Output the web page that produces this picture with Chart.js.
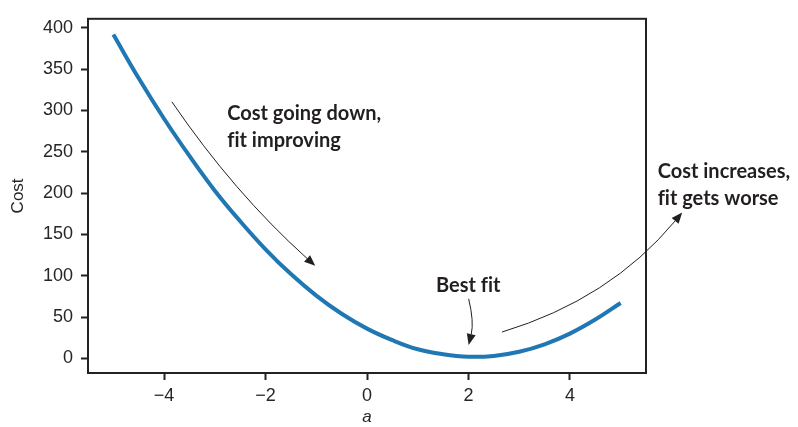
<!DOCTYPE html>
<html>
<head>
<meta charset="utf-8">
<script src="https://cdn.jsdelivr.net/npm/chart.js@4/dist/chart.umd.min.js"></script>
<style>
  html, body { margin: 0; padding: 0; background: #fff; }
  #wrap { width: 798px; height: 427px; }
</style>
</head>
<body>
<div id="wrap"><canvas id="grafico" width="798" height="427"></canvas></div>
<script>
// --- DADOS ---
const valoresA = [-5, -4.5, -4, -3.5, -3, -2.5, -2, -1.5, -1, -0.5, 0, 0.5, 1, 1.5, 2, 2.5, 3, 3.5, 4, 4.5, 5];
const valoresCusto = [392, 339, 290, 245, 203, 166, 132, 102, 76, 54, 36, 22, 11, 5, 2, 3, 8, 17, 30, 47, 67];
const ticksX = [-4, -2, 0, 2, 4];
const ticksY = [0, 50, 100, 150, 200, 250, 300, 350, 400];

// anotações (texto e setas) em coordenadas dos dados
// \u200C evita a ligadura "fi" da fonte
const textos = [
    { x: -2.755, y: 289, linhas: ['Cost going down,', 'f\u200Cit improving'] },
    { x: 1.36, y: 80, linhas: ['Best f\u200Cit'] },
    { x: 5.73, y: 218, linhas: ['Cost increases,', 'f\u200Cit gets worse'] }
];
const setas = [
    { de: [-3.846, 310.5], para: [-1.02, 112], curva: 0.06 },
    { de: [2.004, 72.1], para: [2.004, 16.2], curva: -0.12 },
    { de: [2.663, 31.9], para: [6.213, 176.6], curva: 0.15 }
];

const pontos = valoresA.map((a, i) => ({ x: a, y: valoresCusto[i] }));
const corTexto = '#231f20';

// --- PLUGIN: moldura e anotações ---
const pluginAnotacoes = {
    id: 'anotacoes',
    afterDraw(chart) {
        const ctx = chart.ctx;
        const sx = chart.scales.x, sy = chart.scales.y;
        const area = chart.chartArea;

        // moldura completa (topo e direita)
        ctx.save();
        ctx.strokeStyle = '#222';
        ctx.lineWidth = 2;
        ctx.strokeRect(area.left, area.top, area.right - area.left, area.bottom - area.top);
        ctx.restore();

        // setas curvas
        ctx.save();
        ctx.strokeStyle = corTexto;
        ctx.fillStyle = corTexto;
        ctx.lineWidth = 1;
        setas.forEach(s => {
            const x1 = sx.getPixelForValue(s.de[0]), y1 = sy.getPixelForValue(s.de[1]);
            const x2 = sx.getPixelForValue(s.para[0]), y2 = sy.getPixelForValue(s.para[1]);
            const dx = x2 - x1, dy = y2 - y1;
            const cx = (x1 + x2) / 2 - s.curva * dy;
            const cy = (y1 + y2) / 2 + s.curva * dx;
            const ang = Math.atan2(y2 - cy, x2 - cx);
            const comp = 11, larg = 4.5;
            const bx = x2 - comp * Math.cos(ang), by = y2 - comp * Math.sin(ang);
            ctx.beginPath();
            ctx.moveTo(x1, y1);
            ctx.quadraticCurveTo(cx, cy, bx, by);
            ctx.stroke();
            ctx.beginPath();
            ctx.moveTo(x2, y2);
            ctx.lineTo(bx + larg * Math.sin(ang), by - larg * Math.cos(ang));
            ctx.lineTo(bx - larg * Math.sin(ang), by + larg * Math.cos(ang));
            ctx.closePath();
            ctx.fill();
        });

        // textos
        ctx.font = 'bold 20px Lato';
        ctx.textAlign = 'left';
        ctx.textBaseline = 'alphabetic';
        textos.forEach(t => {
            const px = sx.getPixelForValue(t.x), py = sy.getPixelForValue(t.y);
            t.linhas.forEach((linha, i) => ctx.fillText(linha, px, py + i * 27));
        });
        ctx.restore();
    }
};

const fonteEixo = { family: "'Liberation Sans', Arial, sans-serif", size: 18 };

new Chart(document.getElementById('grafico'), {
    type: 'line',
    data: {
        datasets: [{
            data: pontos,
            borderColor: '#1f77b4',
            borderWidth: 4,
            pointRadius: 0,
            tension: 0.4,
            fill: false
        }]
    },
    options: {
        responsive: false,
        animation: false,
        devicePixelRatio: 1,
        layout: { padding: { top: 10, right: 152, bottom: 0, left: 0 } },
        plugins: { legend: { display: false }, tooltip: { enabled: false } },
        scales: {
            x: {
                type: 'linear',
                min: -5.5,
                max: 5.5,
                afterBuildTicks: s => { s.ticks = ticksX.map(v => ({ value: v })); },
                afterFit: s => { s.height = 54; },
                grid: { drawOnChartArea: false, drawTicks: true, tickLength: 7, tickWidth: 2, tickColor: '#222' },
                border: { display: true, color: '#222', width: 2 },
                ticks: {
                    color: '#262626', font: fonteEixo, padding: 5, maxRotation: 0,
                    callback: v => String(v).replace('-', '\u2212')
                },
                title: {
                    display: true, text: 'a', color: '#262626',
                    font: { family: "'Liberation Sans', Arial, sans-serif", size: 17, style: 'italic' },
                    padding: { top: 0, bottom: 0 }
                }
            },
            y: {
                type: 'linear',
                min: -17.7,
                max: 411,
                afterBuildTicks: s => { s.ticks = ticksY.map(v => ({ value: v })); },
                afterFit: s => { s.width = 88; },
                grid: { drawOnChartArea: false, drawTicks: true, tickLength: 7, tickWidth: 2, tickColor: '#222' },
                border: { display: true, color: '#222', width: 2 },
                ticks: { color: '#262626', font: fonteEixo, padding: 8 },
                title: {
                    display: true, text: 'Cost', color: '#262626',
                    font: { family: "'Liberation Sans', Arial, sans-serif", size: 17 },
                    padding: { top: 8, bottom: 0 }
                }
            }
        }
    },
    plugins: [pluginAnotacoes]
});
</script>
</body>
</html>
